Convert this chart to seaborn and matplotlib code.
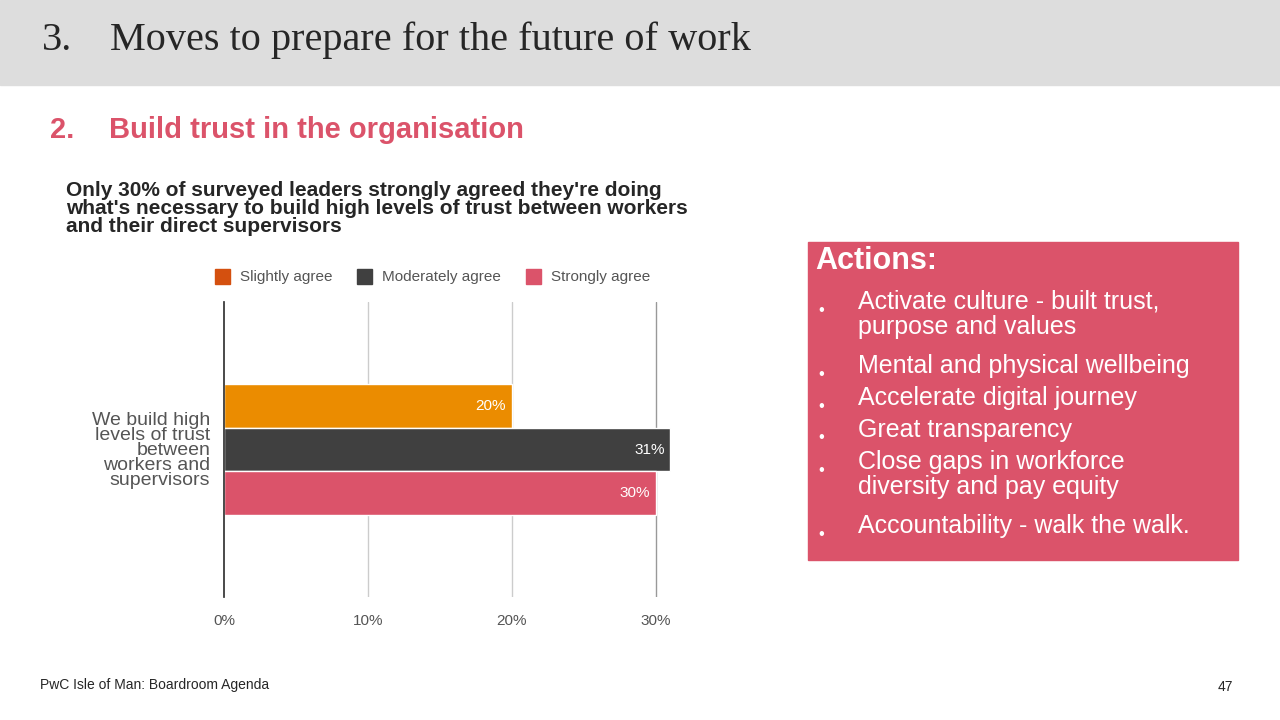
import matplotlib
matplotlib.use("Agg")
import matplotlib.pyplot as plt
import seaborn as sns
import pandas as pd
from matplotlib.patches import Rectangle

categories = ["We build high\nlevels of trust\nbetween\nworkers and\nsupervisors"]
series = ["Slightly agree", "Moderately agree", "Strongly agree"]
values = [20, 31, 30]
bar_colors = ["#eb8c00", "#404040", "#db536a"]
legend_colors = ["#d4500f", "#404040", "#db536a"]
ticks = [0, 10, 20, 30]
actions = ["Activate culture - built trust,\npurpose and values",
           "Mental and physical wellbeing",
           "Accelerate digital journey",
           "Great transparency",
           "Close gaps in workforce\ndiversity and pay equity",
           "Accountability - walk the walk."]

sns.set_theme(style="white")
plt.rcParams['font.family'] = ['Liberation Sans', 'DejaVu Sans']

W, H = 1280, 720
fig = plt.figure(figsize=(12.8, 7.2), dpi=100)
fig.patch.set_facecolor("white")

def fx(x): return x / W
def fy(y): return 1 - y / H

fig.patches.append(Rectangle((0, fy(85)), 1, 85 / H, transform=fig.transFigure,
                             color="#dddddd", zorder=0))
fig.text(fx(42), fy(40), "3.", fontsize=29, family="Liberation Serif", va="center")
fig.text(fx(110), fy(40), "Moves to prepare for the future of work", fontsize=29,
         family="Liberation Serif", va="center")
fig.text(fx(50), fy(130), "2.", fontsize=21, color="#db536a", weight="bold", va="center")
fig.text(fx(109), fy(130), "Build trust in the organisation", fontsize=21,
         color="#db536a", weight="bold", va="center")
fig.text(fx(66), fy(181), "Only 30% of surveyed leaders strongly agreed they're doing\n"
         "what's necessary to build high levels of trust between workers\n"
         "and their direct supervisors", fontsize=15, weight="bold", va="top",
         linespacing=0.95)

# legend
lx = [215, 357, 526]
for x, s, c in zip(lx, series, legend_colors):
    fig.patches.append(Rectangle((fx(x), fy(284)), 15 / W, 15 / H,
                                 transform=fig.transFigure, color=c))
    fig.text(fx(x + 25), fy(277), s, fontsize=11, color="#555555", va="center")

ax = fig.add_axes([fx(224), fy(597), (677.6 - 224) / W, (597 - 302) / H])
df = pd.DataFrame({"cat": categories * 3, "series": series, "value": values})
sns.barplot(data=df, x="value", y="cat", hue="series", palette=bar_colors,
            hue_order=series, ax=ax, legend=False, width=0.8, saturation=1)
ax.set_xlim(0, 31.5)
ax.set_ylim(0.895, -0.895)
ax.set_xticks(ticks)
ax.set_xticklabels([f"{t}%" for t in ticks], fontsize=11, color="#555555")
ax.tick_params(axis="x", pad=12, length=0)
ax.set_yticks([0])
ax.set_yticklabels(categories, fontsize=14, color="#555555", linespacing=0.85)
ax.tick_params(axis="y", length=0, pad=10)
ax.set_xlabel(""); ax.set_ylabel("")
for t in ticks[1:]:
    ax.axvline(t, color="#cccccc" if t < 30 else "#999999", lw=1, zorder=0)
for s in ["top", "right", "bottom"]:
    ax.spines[s].set_visible(False)
ax.spines["left"].set_color("#333333")
for p, v in zip(ax.patches, values):
    ax.text(p.get_width() - 0.4, p.get_y() + p.get_height() / 2, f"{v}%",
            ha="right", va="center", color="white", fontsize=11)

# actions box
fig.patches.append(Rectangle((fx(808), fy(560)), (1238 - 808) / W, (560 - 242) / H,
                             transform=fig.transFigure, color="#db536a"))
fig.text(fx(815), fy(261), "Actions:", fontsize=22, weight="bold", color="white", va="center")
ys = [304, 368, 400, 432, 464, 528]
for y, a in zip(ys, actions):
    fig.text(fx(818), fy(y + 6), "•", fontsize=12, color="white", va="center")
    fig.text(fx(858), fy(y - 14), a, fontsize=18, color="white", va="top", linespacing=1.05)

fig.text(fx(40), fy(685), "PwC Isle of Man: Boardroom Agenda", fontsize=10, va="center")
fig.text(fx(1233), fy(687), "47", fontsize=10, va="center", ha="right")

fig.savefig("out.png", dpi=100)
